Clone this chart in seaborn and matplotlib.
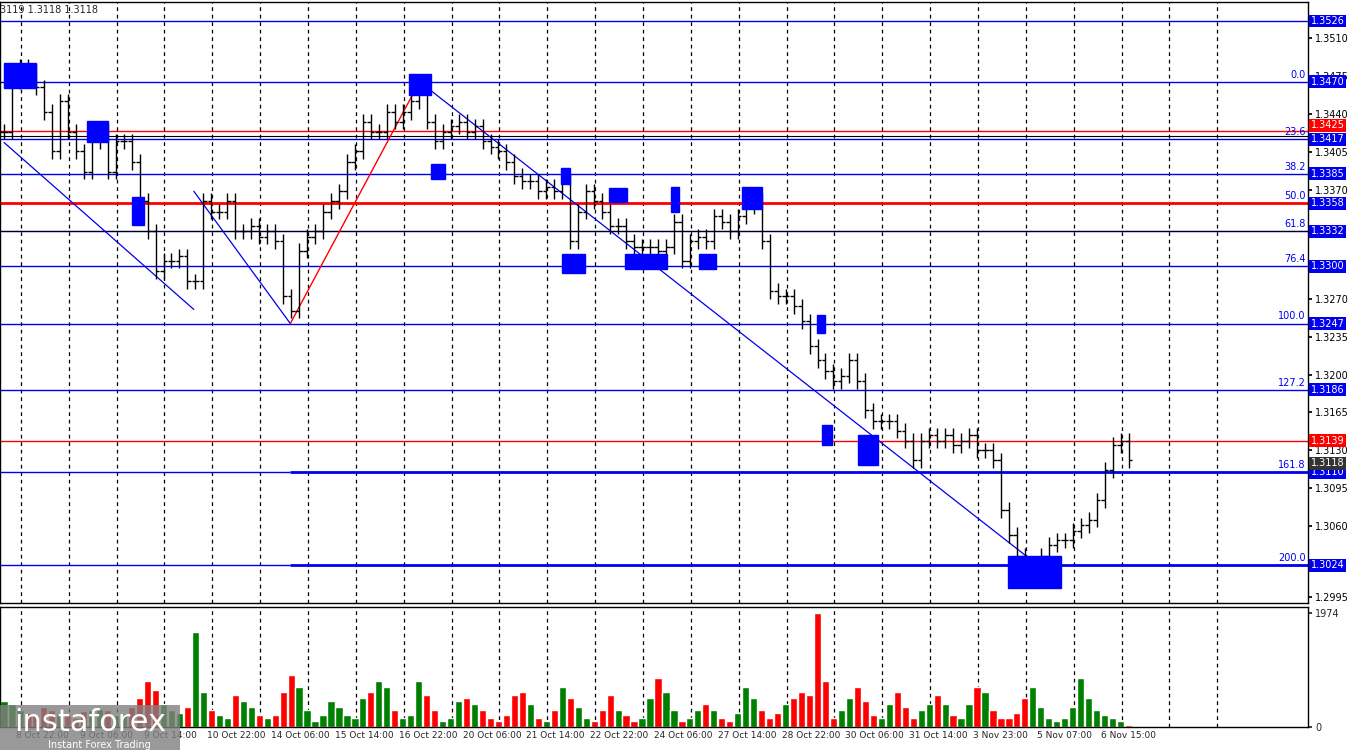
import numpy as np
import matplotlib
matplotlib.use("Agg")
import matplotlib.pyplot as plt
import seaborn as sns
from matplotlib.patches import Rectangle

sns.set_theme(style="white")
plt.rcParams['font.family'] = ['DejaVu Sans']

# ---------------- data ----------------
closes = [1.3424,1.3470,1.3484,1.3479,1.3465,1.3442,1.3406,1.3452,1.3424,1.3406,
          1.3387,1.3415,1.3424,1.3387,1.3415,1.3415,1.3396,1.3360,1.3332,1.3295,
          1.3305,1.3305,1.3309,1.3286,1.3286,1.3360,1.3350,1.3350,1.3360,1.3332,
          1.3332,1.3337,1.3327,1.3332,1.3323,1.3272,1.3259,1.3314,1.3327,1.3332,
          1.3350,1.3360,1.3369,1.3396,1.3406,1.3433,1.3424,1.3424,1.3442,1.3433,
          1.3442,1.3452,1.3461,1.3433,1.3415,1.3424,1.3429,1.3433,1.3424,1.3429,
          1.3415,1.3410,1.3406,1.3396,1.3383,1.3378,1.3378,1.3369,1.3373,1.3369,
          1.3378,1.3323,1.3350,1.3369,1.3360,1.3350,1.3337,1.3337,1.3323,1.3318,
          1.3318,1.3318,1.3314,1.3318,1.3341,1.3305,1.3323,1.3327,1.3323,1.3346,
          1.3341,1.3332,1.3346,1.3355,1.3360,1.3323,1.3277,1.3272,1.3272,1.3263,
          1.3249,1.3226,1.3213,1.3203,1.3194,1.3199,1.3213,1.3194,1.3167,1.3157,
          1.3157,1.3157,1.3148,1.3139,1.3121,1.3139,1.3144,1.3139,1.3144,1.3135,
          1.3139,1.3144,1.3130,1.3130,1.3121,1.3075,1.3052,1.3033,1.3015,1.3024,
          1.3033,1.3043,1.3047,1.3047,1.3056,1.3061,1.3066,1.3084,1.3112,1.3135,
          1.3139,1.3121]
volumes = [450,400,300,250,200,350, 300,250,200,150,280,300, 320,300,200,250,350,500,
           800,650,400,300,250,350, 1650,600,300,200,150,550, 450,350,200,150,200,600,
           900,700,300,100,200,450, 350,200,150,500,600,800, 700,300,150,200,800,550,
           300,100,150,450,500,400, 300,150,100,200,550,600, 400,150,100,300,700,500,
           350,150,100,300,550,300, 200,100,150,500,850,600, 300,100,150,300,400,300,
           150,100,250,700,500,300, 150,250,400,500,600,550, 1974,800,150,300,500,700,
           450,200,150,400,600,350, 150,300,400,550,400,200, 150,400,700,600,300,150,
           150,250,500,700,350,150, 100,150,350,850,500,300, 200,150,100,40]
date_labels = ["8 Oct 22:00","9 Oct 06:00","9 Oct 14:00","10 Oct 22:00","14 Oct 06:00",
               "15 Oct 14:00","16 Oct 22:00","20 Oct 06:00","21 Oct 14:00","22 Oct 22:00",
               "24 Oct 06:00","27 Oct 14:00","28 Oct 22:00","30 Oct 06:00","31 Oct 14:00",
               "3 Nov 23:00","5 Nov 07:00","6 Nov 15:00"]
date_pos = [1.5,9.5,17.5,25.5,33.5,41.5,49.5,57.5,65.5,73.5,81.5,89.5,97.5,105.5,113.5,121.5,129.5,137.5]

price_ticks = [1.3510,1.3475,1.3440,1.3405,1.3370,1.3270,1.3235,1.3200,1.3165,1.3130,1.3095,1.3060,1.2995]
fib_pct = ["0.0","23.6","38.2","50.0","61.8","76.4","100.0","127.2","161.8","200.0"]
fib_lvl = [1.3470,1.3417,1.3385,1.3358,1.3332,1.3300,1.3247,1.3186,1.3110,1.3024]
blue_levels = [1.3526,1.3470,1.3417,1.3385,1.3332,1.3300,1.3247,1.3186]
red_levels = [1.3425,1.3139]
main_red = 1.3358
trend_x0 = [0.0, 23.8, 52.1]
trend_p0 = [1.3414, 1.3369, 1.3470]
trend_x1 = [23.8, 35.9, 128.8]
trend_p1 = [1.3260, 1.3247, 1.3029]
red_tl = (35.9, 1.3247, 52.1, 1.3470)
box_x0 = [0.0, 10.4, 16.0, 50.8, 53.6, 69.8, 70.0, 75.8, 77.9, 83.6, 87.1, 92.5, 101.9, 102.6, 107.1, 125.9]
box_x1 = [4.0, 13.0, 17.6, 53.5, 55.3, 71.0, 72.8, 78.1, 83.1, 84.6, 89.3, 95.0, 103.0, 103.8, 109.6, 132.5]
box_top = [1.3487, 1.3434, 1.3364, 1.3477, 1.3394, 1.3390, 1.3311, 1.3372, 1.3311, 1.3373, 1.3311, 1.3373, 1.3255, 1.3153, 1.3144, 1.3033]
box_bot = [1.3464, 1.3414, 1.3338, 1.3458, 1.3380, 1.3376, 1.3294, 1.3359, 1.3297, 1.3350, 1.3297, 1.3353, 1.3238, 1.3135, 1.3117, 1.3003]

# ---------------- figure ----------------
W, H = 1350, 750
fig = plt.figure(figsize=(13.5, 7.5), dpi=100)
fig.patch.set_facecolor("white")
axr = 1308 / W
ax = fig.add_axes([0, 1 - 603 / H, axr, 601 / H])
axv = fig.add_axes([0, 1 - 727 / H, axr, 120 / H])
xmax = 1308 / 8
ymin, ymax = 1.29893, 1.35435

for a in (ax, axv):
    a.set_xlim(-0.5, xmax)
    for s in a.spines.values():
        s.set_color("black"); s.set_linewidth(1)
    for k in range(26):
        a.axvline((17 + 48 * k) / 8, color="black", ls=(0, (3, 3)), lw=0.9, zorder=0)
ax.set_ylim(ymin, ymax)

for lv in blue_levels:
    ax.axhline(lv, color="#0000ee", lw=1, zorder=1)
ax.axhline(1.3420, color="black", lw=0.8, zorder=1)
ax.axhline(1.3332, color="black", lw=0.8, zorder=1)
for lv in red_levels:
    ax.axhline(lv, color="red", lw=1, zorder=1)
ax.axhline(main_red, color="red", lw=2, zorder=1)
ax.hlines([1.3110, 1.3024], 287 / 8, xmax, color="#0000ee", lw=2, zorder=1)
ax.hlines([1.3110, 1.3024], -0.5, 287 / 8, color="#0000ee", lw=1, zorder=1)
for p, l in zip(fib_pct, fib_lvl):
    ax.text(xmax - 0.3, l + 0.0002, p, color="#0000ee", fontsize=7, ha="right", va="bottom")

for a0, b0, a1, b1 in zip(trend_x0, trend_p0, trend_x1, trend_p1):
    ax.plot([a0, a1], [b0, b1], color="#0000ee", lw=0.9, zorder=2)
ax.plot([red_tl[0], red_tl[2]], [red_tl[1], red_tl[3]], color="red", lw=1, zorder=2)

idx = np.arange(len(closes))
opens = [closes[0]] + closes[:-1]
wick = 0.0007
for i, (o, c) in enumerate(zip(opens, closes)):
    hi, lo = max(o, c) + wick, min(o, c) - wick
    ax.vlines(i, lo, hi, color="black", lw=1, zorder=3)
    ax.hlines(o, i - 0.45, i, color="black", lw=1, zorder=3)
    ax.hlines(c, i, i + 0.45, color="black", lw=1, zorder=3)

for x0, x1, t, b in zip(box_x0, box_x1, box_top, box_bot):
    ax.add_patch(Rectangle((x0, b), x1 - x0, t - b, color="#0000ff", zorder=4))

ax.yaxis.tick_right()
ax.set_yticks(price_ticks)
ax.set_yticklabels([f"{t:.4f}" for t in price_ticks], fontsize=7)
ax.tick_params(axis="y", length=3, pad=2, colors="black")
ax.set_xticks([])
bl = blue_levels + [1.3358, 1.3110, 1.3024]
for lv in bl:
    ax.annotate(f"{lv:.4f}", xy=(1.002, lv), xycoords=("axes fraction", "data"), fontsize=7,
                color="white", va="center", ha="left",
                bbox=dict(boxstyle="square,pad=0.15", fc="#0000ee", ec="none"))
for lv, col in [(1.3425, "red"), (1.3139, "red"), (1.3118, "#333333")]:
    ax.annotate(f"{lv:.4f}", xy=(1.002, lv + (0.0005 if lv == 1.3425 else 0)),
                xycoords=("axes fraction", "data"), fontsize=7, color="white", va="center",
                ha="left", bbox=dict(boxstyle="square,pad=0.15", fc=col, ec="none"))
ax.text(0.0, 0.995, "3119 1.3118 1.3118", transform=ax.transAxes, fontsize=7, va="top")

vcol = ["green" if c >= o else "red" for o, c in zip(opens, closes)]
axv.bar(idx, volumes, width=0.9, color=vcol, zorder=2)
axv.set_ylim(0, 2080)
axv.yaxis.tick_right()
axv.set_yticks([0, 1974])
axv.set_yticklabels(["0", "1974"], fontsize=7)
axv.tick_params(axis="y", length=3, pad=2)
axv.set_xticks(date_pos)
axv.set_xticklabels(date_labels, fontsize=6.5, ha="left")
axv.tick_params(axis="x", length=0, pad=3)

# watermark
wm = fig.add_axes([0, 0, 180 / W, 45 / H])
wm.set_facecolor("#808080"); wm.patch.set_alpha(0.8)
wm.set_xticks([]); wm.set_yticks([])
for s in wm.spines.values():
    s.set_visible(False)
wm.text(0.5, 0.62, "instaforex", fontsize=22, color="white", ha="center", va="center",
        transform=wm.transAxes)
wm.text(0.55, 0.12, "Instant Forex Trading", fontsize=7, color="white", ha="center",
        va="center", transform=wm.transAxes)

fig.savefig("out.png", dpi=100, facecolor="white")
